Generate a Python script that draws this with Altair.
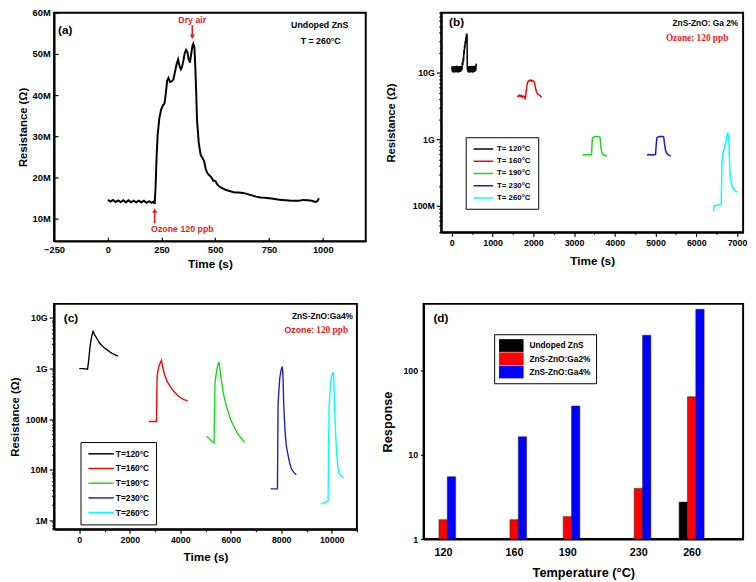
import altair as alt
import pandas as pd

SANS = "Liberation Sans"
SERIF = "Liberation Serif"
RED = "#f01818"

# ---------------- (a) undoped ZnS, 260 °C ----------------
a_time = [0, 12, 24, 36, 48, 60, 72, 84, 96, 108, 120, 132, 144, 156, 168, 180, 192, 204, 214, 218,
          222, 227, 232, 240, 248, 256, 264, 270, 276, 282, 290, 298, 305, 312, 320, 327, 334, 340, 346, 352,
          358, 364, 370, 376, 382, 388, 394, 398, 403, 407, 411, 415, 423, 432, 440, 448, 456, 464, 472, 480,
          490, 500, 510, 520, 535, 550, 570, 590, 610, 630, 650, 670, 690, 710, 730, 750, 770, 790, 810, 830,
          850, 870, 890, 910, 930, 950, 965, 975, 982]
a_res = [14.6, 14.2, 14.6, 14.1, 14.5, 14.1, 14.5, 14.0, 14.5, 14.0, 14.4, 14.0, 14.4, 14.0, 14.4, 13.9, 14.3, 13.9, 14.2, 13.6,
         17.5, 25.0, 30.5, 34.5, 36.5, 37.5, 38.0, 40.5, 43.5, 44.2, 43.2, 43.4, 43.8, 45.5, 47.5, 48.7, 47.0, 46.3, 47.0, 48.5,
         50.2, 51.0, 50.5, 48.8, 47.9, 50.0, 52.0, 52.5, 51.5, 47.0, 41.0, 34.0, 28.5, 25.5, 24.8, 24.0, 22.0, 21.0, 20.6, 20.2,
         19.3, 19.2, 18.3, 17.8, 17.4, 17.0, 16.7, 16.4, 16.4, 16.3, 16.0, 15.7, 15.4, 15.2, 15.1, 15.0, 14.9, 14.7, 14.6, 14.5,
         14.4, 14.4, 14.4, 14.6, 14.5, 14.4, 14.1, 14.3, 15.0]

# annotation arrows of panel (a): Dry air (down), Ozone (up)
arrow_t = [393, 218]
arrow_from = [57.0, 8.9]
arrow_to = [54.2, 12.0]
arrow_shape = ["triangle-down", "triangle-up"]
ann_a_text = ["Dry air", "Ozone 120 ppb"]
ann_a_t = [393, 347]
ann_a_r = [58.2, 7.6]

# ---------------- (b) ZnS-ZnO: Ga 2% ----------------
b_labels = ["T= 120°C", "T= 160°C", "T= 190°C", "T= 230°C", "T= 260°C"]
b_colors = ["#000000", "#ff0000", "#10e010", "#1515e0", "#00ffff"]
b120_t = [0, 8, 16, 24, 32, 40, 48, 56, 64, 72, 80, 88, 96, 104, 112, 120, 128, 136, 144, 152, 160, 168, 176, 184,
          192, 200, 208, 216, 224, 232, 240, 250, 260, 270, 280, 290, 297, 304, 312, 320, 328, 336, 345, 352, 358,
          364, 370, 375, 380, 388, 396, 404, 412, 420, 428, 436, 444, 452, 460, 468, 476, 484, 492, 500, 508, 516,
          524, 532, 540, 548, 556, 564, 572, 580, 588, 596, 602]
b120_r = [1.10e10, 1.25e10, 1.02e10, 1.22e10, 1.04e10, 1.27e10, 1.00e10, 1.24e10, 1.05e10, 1.21e10, 1.03e10, 1.26e10,
          1.01e10, 1.23e10, 1.06e10, 1.28e10, 1.02e10, 1.22e10, 1.04e10, 1.25e10, 1.00e10, 1.24e10, 1.05e10, 1.27e10,
          1.03e10, 1.22e10, 1.06e10, 1.26e10, 1.04e10, 1.23e10,
          1.2e10, 1.1e10, 1.45e10, 1.3e10, 1.7e10, 1.5e10,
          2.2e10, 1.9e10, 2.6e10, 2.3e10, 3.0e10, 2.7e10, 3.4e10, 3.0e10, 3.8e10, 3.3e10, 3.9e10, 3.5e10, 1.1e10,
          1.25e10, 1.02e10, 1.24e10, 1.05e10, 1.27e10, 1.00e10, 1.22e10, 1.04e10, 1.26e10, 1.01e10, 1.25e10, 1.05e10,
          1.23e10, 1.02e10, 1.28e10, 1.04e10, 1.24e10, 1.00e10, 1.26e10, 1.05e10, 1.22e10, 1.03e10, 1.27e10, 1.06e10,
          1.30e10, 1.08e10, 1.32e10, 1.38e10]
b160_t = [1605, 1630, 1655, 1680, 1705, 1730, 1755, 1780, 1800, 1815, 1830, 1845, 1860, 1875, 1895, 1915, 1935, 1955,
          1975, 1995, 2015, 2030, 2045, 2060, 2075, 2090, 2110, 2130, 2150, 2170, 2190, 2208]
b160_r = [4.5e9, 4.4e9, 4.6e9, 4.4e9, 4.6e9, 4.3e9, 4.5e9, 4.4e9, 4.0e9, 4.6e9, 5.6e9, 6.5e9, 7.1e9, 7.5e9, 7.7e9,
          7.6e9, 7.8e9, 7.5e9, 7.7e9, 7.6e9, 7.4e9, 7.0e9, 6.3e9, 5.7e9, 5.3e9, 5.0e9, 4.8e9, 4.7e9, 4.6e9, 4.5e9,
          4.4e9, 4.3e9]
b190_t = [3211, 3260, 3310, 3360, 3410, 3428, 3440, 3452, 3480, 3520, 3560, 3600, 3637, 3655, 3669, 3690, 3710, 3733,
          3770, 3813]
b190_r = [5.8e8, 5.9e8, 5.8e8, 5.9e8, 5.8e8, 5.8e8, 8.0e8, 1.05e9, 1.08e9, 1.1e9, 1.1e9, 1.09e9, 1.08e9, 8.5e8,
          6.9e8, 6.2e8, 5.9e8, 5.8e8, 5.7e8, 5.6e8]
b230_t = [4793, 4840, 4890, 4940, 4985, 5001, 5015, 5033, 5060, 5100, 5140, 5180, 5202, 5220, 5240, 5258, 5290, 5330,
          5378]
b230_r = [5.8e8, 5.9e8, 5.8e8, 5.8e8, 5.9e8, 5.9e8, 8.0e8, 1.05e9, 1.08e9, 1.1e9, 1.1e9, 1.1e9, 1.08e9, 8.6e8,
          7.2e8, 6.4e8, 6.0e8, 5.8e8, 5.6e8]
b260_t = [6422, 6440, 6460, 6500, 6550, 6600, 6615, 6625, 6639, 6660, 6690, 6715, 6735, 6750, 6767, 6785, 6800, 6812,
          6824, 6840, 6863, 6900, 6944, 7008]
b260_r = [8.3e7, 1.0e8, 1.01e8, 1.02e8, 1.03e8, 1.05e8, 1.1e8, 3.0e8, 5.5e8, 6.3e8, 7.3e8, 8.5e8, 9.6e8, 1.1e9,
          1.26e9, 1.15e9, 1.05e9, 5.5e8, 3.55e8, 2.6e8, 2.15e8, 1.85e8, 1.7e8, 1.6e8]

# ---------------- (c) ZnS-ZnO: Ga 4% ----------------
c_labels = ["T=120°C", "T=160°C", "T=190°C", "T=230°C", "T=260°C"]
c_colors = ["#000000", "#ff0000", "#10e010", "#2020b8", "#00ffff"]
c120_t = [0, 150, 326, 360, 391, 420, 456, 500, 547, 600, 716, 800, 911, 1000, 1107, 1200, 1302, 1400, 1536]
c120_r = [1.0e9, 1.0e9, 0.97e9, 1.3e9, 1.8e9, 2.6e9, 3.5e9, 4.6e9, 5.4e9, 4.7e9, 3.8e9, 3.2e9, 2.8e9, 2.55e9,
          2.34e9, 2.15e9, 2.0e9, 1.88e9, 1.76e9]
c160_t = [2760, 2900, 3060, 3070, 3086, 3164, 3255, 3300, 3385, 3480, 3580, 3680, 3776, 3900, 4036, 4150, 4297]
c160_r = [9e7, 9e7, 9e7, 3e8, 7.4e8, 1.15e9, 1.45e9, 1.1e9, 7.4e8, 5.6e8, 4.6e8, 3.9e8, 3.4e8, 2.95e8, 2.6e8,
          2.45e8, 2.3e8]
c190_t = [5039, 5150, 5250, 5338, 5360, 5377, 5429, 5480, 5534, 5580, 5638, 5700, 5794, 5900, 5990, 6100, 6250, 6400,
          6549]
c190_r = [4.6e7, 4.1e7, 3.7e7, 3.4e7, 1.5e8, 5.1e8, 8.3e8, 1.15e9, 1.35e9, 9.0e8, 5.5e8, 3.4e8, 2.1e8, 1.4e8, 1.0e8,
          7.6e7, 5.5e7, 4.3e7, 3.5e7]
c230_t = [7578, 7700, 7851, 7865, 7877, 7942, 8000, 8046, 8070, 8098, 8130, 8164, 8210, 8268, 8330, 8398, 8490, 8593]
c230_r = [4.2e6, 4.2e6, 4.2e6, 4.0e7, 2.1e8, 6.5e8, 9.5e8, 1.1e9, 7e8, 2.1e8, 9e7, 4.8e7, 2.8e7, 2.0e7, 1.4e7,
          1.07e7, 9e6, 8e6]
c260_t = [9570, 9700, 9857, 9875, 9896, 9961, 10010, 10065, 10090, 10117, 10150, 10195, 10240, 10286, 10380, 10481]
c260_r = [2.1e6, 2.25e6, 2.4e6, 2.0e7, 1.8e8, 5.5e8, 7.5e8, 8.6e8, 5e8, 1.8e8, 6e7, 2.2e7, 1.2e7, 8.7e6, 7.5e6, 6.9e6]

# ---------------- (d) response vs temperature ----------------
d_temps = [120, 160, 190, 230, 260]
d_series = ["Undoped ZnS", "ZnS-ZnO:Ga2%", "ZnS-ZnO:Ga4%"]
d_colors = ["#000000", "#ff0000", "#0000ff"]
d_undoped = [None, None, None, None, 2.75]
d_ga2 = [1.7, 1.7, 1.85, 4.0, 49]
d_ga4 = [5.5, 16.4, 38, 263, 535]


def mk_long(names, ts_list, rs_list, key):
    rows = []
    for name, ts, rs in zip(names, ts_list, rs_list):
        for i, (t, r) in enumerate(zip(ts, rs)):
            rows.append({"t": t, "r": r, key: name, "i": i})
    return pd.DataFrame(rows)


def log_vals(lo, hi, emin, emax):
    return [m * 10 ** e for e in range(emin, emax + 1) for m in range(1, 10) if lo <= m * 10 ** e <= hi]


def label(text, x, y, size=9, color="black", align="left", font=SANS):
    return alt.Chart(pd.DataFrame({"s": [text]})).mark_text(
        align=align, baseline="middle", fontSize=size, font=font, fontWeight="bold", color=color
    ).encode(text="s:N", x=alt.value(x), y=alt.value(y))


# ---------- panel (a) ----------
df_a = pd.DataFrame({"t": a_time, "r": a_res})
df_arrow = pd.DataFrame({"t": arrow_t, "r": arrow_from, "r2": arrow_to})
df_head = pd.DataFrame({"t": arrow_t, "r": arrow_to, "shape": arrow_shape})
df_ann_a = pd.DataFrame({"t": ann_a_t, "r": ann_a_r, "s": ann_a_text})

xa = alt.X("t:Q", scale=alt.Scale(domain=[-250, 1200], nice=False, zero=False),
           axis=alt.Axis(title="Time (s)", values=[-250, 0, 250, 500, 750, 1000], format="d",
                         tickSize={"expr": "-4"}, labelPadding=8, titlePadding=4, titleFontSize=12,
                         labelFontSize=9.5))
ya = alt.Y("r:Q", scale=alt.Scale(domain=[4.6, 60], nice=False, zero=False),
           axis=alt.Axis(title="Resistance (Ω)", values=[10, 20, 30, 40, 50, 60], labelExpr="datum.value + 'M'",
                         tickSize={"expr": "-4"}, labelPadding=8, titlePadding=4, titleFontSize=11.5,
                         labelFontSize=9.5))

a_line = alt.Chart(df_a).mark_line(color="black", strokeWidth=2).encode(x=xa, y=ya)
a_rule = alt.Chart(df_arrow).mark_rule(color=RED, strokeWidth=1.6).encode(x=xa, y=ya, y2="r2:Q")
a_head = alt.Chart(df_head).mark_point(filled=True, size=28, color=RED, opacity=1).encode(
    x=xa, y=ya, shape=alt.Shape("shape:N", scale=None))
a_txt = alt.Chart(df_ann_a).mark_text(color=RED, fontWeight="bold", fontSize=9, font=SANS).encode(
    x=xa, y=ya, text="s:N")
panel_a = alt.layer(
    a_line, a_rule, a_head, a_txt,
    label("(a)", 4, 18, size=12),
    label("Undoped ZnS", 271, 13, size=9, align="center"),
    label("T = 260°C", 272, 29, size=9, align="center"),
).properties(width=318, height=233)

# ---------- panel (b) ----------
df_b = mk_long(b_labels, [b120_t, b160_t, b190_t, b230_t, b260_t], [b120_r, b160_r, b190_r, b230_r, b260_r], "Tb")
yb_major = "datum.value == 1e8 || datum.value == 1e9 || datum.value == 1e10"
b_line = alt.Chart(df_b).mark_line(strokeWidth=1.5).encode(
    x=alt.X("t:Q", scale=alt.Scale(domain=[-260, 7150], nice=False, zero=False),
            axis=alt.Axis(title="Time (s)", values=list(range(0, 7001, 500)), format="d",
                          labelExpr="datum.value % 1000 == 0 ? datum.label : ''",
                          tickSize={"condition": {"test": "datum.value % 1000 == 0", "value": 4}, "value": 2},
                          labelOverlap=False, labelPadding=2, titlePadding=9, titleFontSize=12)),
    y=alt.Y("r:Q", scale=alt.Scale(type="log", domain=[4e7, 8e10], nice=False),
            axis=alt.Axis(title="Resistance (Ω)", values=log_vals(4e7, 8e10, 7, 10),
                          labelExpr="datum.value == 1e8 ? '100M' : datum.value == 1e9 ? '1G' : datum.value == 1e10 ? '10G' : ''",
                          tickSize={"condition": {"test": yb_major, "value": 5}, "value": 2.5},
                          labelOverlap=False, labelPadding=2, titlePadding=16, titleFontSize=11.5)),
    color=alt.Color("Tb:N", scale=alt.Scale(domain=b_labels, range=b_colors),
                    legend=alt.Legend(title=None, orient="none", legendX=25, legendY=127, strokeColor="black",
                                      fillColor="white", padding=7, symbolType="M-1,0L4,0", symbolSize=64,
                                      symbolStrokeWidth=1.5, labelOffset=15, rowPadding=3.5, labelFontSize=8,
                                      labelFont=SANS, labelFontWeight="bold")),
    order="i:Q",
)
panel_b = alt.layer(
    b_line,
    label("(b)", 8, 10, size=12),
    label("ZnS-ZnO: Ga 2%", 303, 10, size=8.5, align="right"),
    label("Ozone: 120 ppb", 293, 26, size=9.5, color=RED, align="right", font=SERIF),
).properties(width=308, height=224)

# ---------- panel (c) ----------
df_c = mk_long(c_labels, [c120_t, c160_t, c190_t, c230_t, c260_t], [c120_r, c160_r, c190_r, c230_r, c260_r], "Tc")
yc_major = "datum.value == 1e6 || datum.value == 1e7 || datum.value == 1e8 || datum.value == 1e9 || datum.value == 1e10"
c_line = alt.Chart(df_c).mark_line(strokeWidth=1.4).encode(
    x=alt.X("t:Q", scale=alt.Scale(domain=[-1000, 11000], nice=False, zero=False),
            axis=alt.Axis(title="Time (s)", values=list(range(0, 11001, 1000)), format="d",
                          labelExpr="datum.value % 2000 == 0 && datum.value <= 10000 ? datum.label : ''",
                          tickSize={"condition": {"test": "datum.value % 2000 == 0", "value": 4}, "value": 2.5},
                          labelOverlap=False, labelPadding=2, titlePadding=8, titleFontSize=12)),
    y=alt.Y("r:Q", scale=alt.Scale(type="log", domain=[6.7e5, 1.9e10], nice=False),
            axis=alt.Axis(title="Resistance (Ω)", values=log_vals(6.7e5, 1.9e10, 5, 10),
                          labelExpr="datum.value == 1e6 ? '1M' : datum.value == 1e7 ? '10M' : datum.value == 1e8 ? '100M' : datum.value == 1e9 ? '1G' : datum.value == 1e10 ? '10G' : ''",
                          tickSize={"condition": {"test": yc_major, "value": 5}, "value": 2.5},
                          labelOverlap=False, labelPadding=2, titlePadding=5, titleFontSize=11.5)),
    color=alt.Color("Tc:N", scale=alt.Scale(domain=c_labels, range=c_colors),
                    legend=alt.Legend(title=None, orient="none", legendX=27, legendY=141, strokeColor="black",
                                      fillColor="white", padding=7, symbolType="M-1,0L5.5,0", symbolSize=64,
                                      symbolStrokeWidth=1.5, labelOffset=19, rowPadding=5, labelFontSize=8.5,
                                      labelFont=SANS, labelFontWeight="bold")),
    order="i:Q",
)
panel_c = alt.layer(
    c_line,
    label("(c)", 10, 14, size=12),
    label("ZnS-ZnO:Ga4%", 305, 12, size=8.5, align="right"),
    label("Ozone:", 235, 27, size=9, color=RED, align="left"),
    label("120 ppb", 300, 27, size=9.5, color=RED, align="right", font=SERIF),
).properties(width=309, height=230)

# ---------- panel (d) ----------
d_rows = []
for s, vals in zip(d_series, [d_undoped, d_ga2, d_ga4]):
    for temp, v in zip(d_temps, vals):
        if v is not None:
            d_rows.append({"temp": temp, "series": s, "resp": v})
df_d = pd.DataFrame(d_rows)

d_bars = alt.Chart(df_d).transform_calculate(
    off="datum.series == 'Undoped ZnS' ? -4.7 : (datum.series == 'ZnS-ZnO:Ga2%' ? 0 : 4.7)"
).transform_calculate(
    x0="datum.temp + datum.off - 2.35", x1="datum.temp + datum.off + 2.35"
).mark_bar(stroke="#202020", strokeWidth=0.5).encode(
    x=alt.X("x0:Q", scale=alt.Scale(domain=[109, 289], nice=False, zero=False),
            axis=alt.Axis(title="Temperature (°C)", values=d_temps, ticks=False, labelFontSize=11,
                          labelPadding=8, titlePadding=9, titleFontSize=13)),
    x2="x1:Q",
    y=alt.Y("resp:Q", scale=alt.Scale(type="log", domain=[1, 620], nice=False),
            axis=alt.Axis(title="Response", values=[1, 10, 100], format="d", tickSize=3, labelPadding=3,
                          titlePadding=9, titleFontSize=13)),
    y2=alt.datum(1),
    color=alt.Color("series:N", scale=alt.Scale(domain=d_series, range=d_colors),
                    legend=alt.Legend(title=None, orient="none", legendX=72, legendY=31, strokeColor="black",
                                      fillColor="white", padding=5, symbolType="M-1,-1L2.85,-1L2.85,1L-1,1Z",
                                      symbolSize=169, symbolStrokeWidth=0, labelOffset=18, rowPadding=0.5,
                                      labelFontSize=8.5, labelFont=SANS, labelFontWeight="bold")),
)
panel_d = alt.layer(d_bars, label("(d)", 10, 15, size=12)).properties(width=326, height=240)

row1 = alt.hconcat(panel_a, panel_b, spacing=77, bounds="flush").resolve_scale(color="independent")
row2 = alt.hconcat(panel_c, panel_d, spacing=68, bounds="flush").resolve_scale(color="independent")

chart = alt.vconcat(row1, row2, spacing=33).resolve_scale(color="independent").properties(
    padding={"left": 0, "top": -7, "right": 0, "bottom": 0}
).configure_axis(
    labelFont=SANS, labelFontSize=9, labelFontWeight="bold", labelColor="black", labelFlush=False,
    titleFont=SANS, titleFontWeight="bold", titleColor="black",
    domainColor="black", domainWidth=2, tickColor="black", tickWidth=1.2, grid=False,
).configure_view(stroke="black", strokeWidth=2).configure_legend(labelColor="black")

chart.save("out.html", embed_options={"renderer": "svg", "actions": False})
